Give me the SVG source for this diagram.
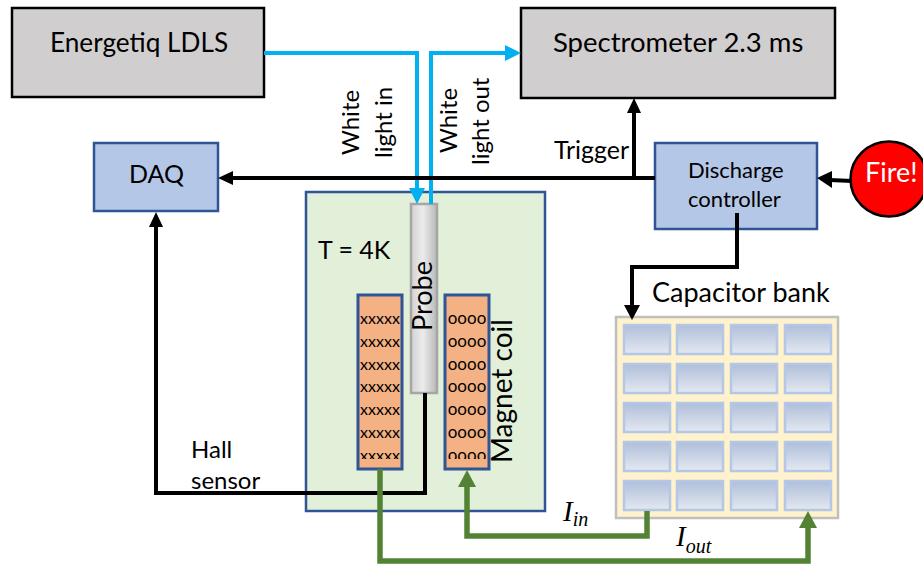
<svg xmlns="http://www.w3.org/2000/svg" width="923" height="565" viewBox="0 0 923 565">
<style>
text{font-family:"Lato","Carlito","Liberation Sans",sans-serif;fill:#000}
.gray{fill:#d0cece;stroke:#000;stroke-width:2.5}
.blue{fill:#b4c7e7;stroke:#2f5597;stroke-width:2.5}
.coil{fill:#f4b183;stroke:#2f5597;stroke-width:3}
.cell{fill:url(#cg);stroke:#b4c7e7;stroke-width:2.5}
.l{fill:none;stroke-linejoin:miter}
.bk{stroke:#000;stroke-width:4}
.cy{stroke:#00b0f0;stroke-width:4}
.gr{stroke:#548235;stroke-width:5.5}
.t24{font-size:24px}
.t25{font-size:25px}
.t22{font-size:22px}
.t27{font-size:27px}
.rx{font-size:16px;text-anchor:middle}
.ro{font-size:17px;text-anchor:middle}
.m{font-family:"Liberation Serif",serif;font-style:italic}
</style>
<defs>
<linearGradient id="cg" x1="0" y1="0" x2="0" y2="1"><stop offset="0" stop-color="#afbed9"/><stop offset="1" stop-color="#e4e9f1"/></linearGradient>
<linearGradient id="pg" x1="0" y1="0" x2="1" y2="0"><stop offset="0" stop-color="#d2d2d2"/><stop offset="0.45" stop-color="#ececec"/><stop offset="1" stop-color="#b8b8b8"/></linearGradient>
<clipPath id="cl"><rect x="359" y="296" width="42" height="163"/></clipPath>
<clipPath id="cr"><rect x="446" y="296" width="42" height="163"/></clipPath>
<g id="bankcell"><rect class="cell" x="0" y="0" width="46" height="29"/></g>
</defs>

<g id="energetiq"><rect class="gray" x="12" y="8" width="252" height="89"/><text x="50" y="52" font-size="26.2">Energetiq LDLS</text></g>
<g id="spectrometer"><rect class="gray" x="521" y="8" width="314" height="90"/><text x="553" y="52" font-size="27.5">Spectrometer 2.3 ms</text></g>
<g id="daq"><rect class="blue" x="94" y="143" width="124" height="68"/><text class="t25" x="129" y="183">DAQ</text></g>
<g id="controller"><rect class="blue" x="655" y="143" width="162" height="86"/><text class="t22" x="688" y="178">Discharge</text><text class="t22" x="688" y="207">controller</text></g>
<g id="fire"><ellipse cx="889" cy="179" rx="38.5" ry="37.5" fill="#f00" stroke="#000" stroke-width="2.5"/><text class="t27" x="865" y="182" style="fill:#fff">Fire!</text></g>
<g id="cryostat"><rect x="306" y="192" width="239" height="319" fill="#e2efd9" stroke="#2f5597" stroke-width="2.5"/><text class="t25" x="318" y="259">T = 4K</text></g>
<g id="coil-left"><rect class="coil" x="358" y="295" width="44" height="174"/>
<g clip-path="url(#cl)"><text class="rx" x="380" y="324">xxxxx</text><text class="rx" x="380" y="347">xxxxx</text><text class="rx" x="380" y="370">xxxxx</text><text class="rx" x="380" y="392">xxxxx</text><text class="rx" x="380" y="415">xxxxx</text><text class="rx" x="380" y="438">xxxxx</text><text class="rx" x="380" y="461">xxxxx</text></g></g>
<g id="coil-right"><rect class="coil" x="445" y="295" width="44" height="174"/>
<g clip-path="url(#cr)"><text class="ro" x="467" y="324">oooo</text><text class="ro" x="467" y="347">oooo</text><text class="ro" x="467" y="370">oooo</text><text class="ro" x="467" y="392">oooo</text><text class="ro" x="467" y="415">oooo</text><text class="ro" x="467" y="438">oooo</text><text class="ro" x="467" y="461">oooo</text></g>
<text font-size="28" transform="translate(512,463) rotate(-90)">Magnet coil</text></g>
<g id="probe"><rect x="411" y="204" width="26" height="189" fill="url(#pg)" stroke="#a6a6a6" stroke-width="2.5"/><text class="t27" transform="translate(432,331) rotate(-90)">Probe</text></g>
<g id="capacitor-bank"><rect x="616" y="317" width="222" height="201" fill="#fff2cc" stroke="#bfbfbf" stroke-width="2.5"/>
<use href="#bankcell" x="624" y="325"/><use href="#bankcell" x="677" y="325"/><use href="#bankcell" x="731" y="325"/><use href="#bankcell" x="785" y="325"/>
<use href="#bankcell" x="624" y="364"/><use href="#bankcell" x="677" y="364"/><use href="#bankcell" x="731" y="364"/><use href="#bankcell" x="785" y="364"/>
<use href="#bankcell" x="624" y="403"/><use href="#bankcell" x="677" y="403"/><use href="#bankcell" x="731" y="403"/><use href="#bankcell" x="785" y="403"/>
<use href="#bankcell" x="624" y="442"/><use href="#bankcell" x="677" y="442"/><use href="#bankcell" x="731" y="442"/><use href="#bankcell" x="785" y="442"/>
<use href="#bankcell" x="624" y="481"/><use href="#bankcell" x="677" y="481"/><use href="#bankcell" x="731" y="481"/><use href="#bankcell" x="785" y="481"/>
<text class="t27" x="652" y="302">Capacitor bank</text></g>

<g id="connectors">
<path class="l cy" d="M264 53H417V190"/><path d="M409 188H425L417 204Z" fill="#00b0f0"/>
<path class="l cy" d="M431 204V53H507"/><path d="M505 45L521 53L505 61Z" fill="#00b0f0"/>
<path class="l bk" d="M655 178H232"/><path d="M233 171L218 178L233 185Z"/>
<path class="l bk" d="M634 178V112"/><path d="M627 113L634 98L641 113Z"/>
<path class="l bk" d="M852 181L830 180"/><path d="M832 171L817 178L832 188Z"/>
<path class="l bk" d="M737 213V267H632V306"/><path d="M624 305L632 320L640 305Z"/>
<path class="l bk" d="M425 393V493H156V226"/><path d="M149 227L156 212L163 227Z"/>
<path class="l gr" d="M380 469V561H808V527"/><path d="M799 528L808 511L817 528Z" fill="#548235"/>
<path class="l gr" d="M647 511V536H467V486"/><path d="M458 487L467 470L476 487Z" fill="#548235"/>
</g>
<g id="labels">
<text class="t24" transform="translate(359,155) rotate(-90)">White</text>
<text class="t24" transform="translate(392,158) rotate(-90)">light in</text>
<text class="t24" transform="translate(457,153) rotate(-90)">White</text>
<text class="t24" transform="translate(489,165) rotate(-90)">light out</text>
<text class="t25" x="554" y="159">Trigger</text>
<text class="t24" x="191" y="458">Hall</text><text class="t24" x="191" y="489">sensor</text>
<text class="m" x="563" y="521" font-size="29">I<tspan font-size="20" dy="5">in</tspan></text>
<text class="m" x="676" y="546" font-size="29">I<tspan font-size="20" dy="7">out</tspan></text>
</g>
</svg>
